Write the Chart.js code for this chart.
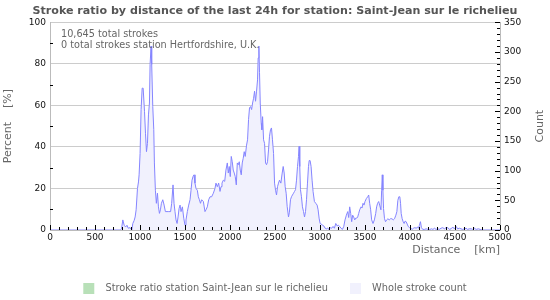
<!DOCTYPE html>
<html>
<head>
<meta charset="utf-8">
<script src="https://cdn.jsdelivr.net/npm/chart.js@4.4.1/dist/chart.umd.min.js"></script>
<style>
  html, body { margin: 0; padding: 0; background: #fff; }
  #c { display: block; }
</style>
</head>
<body>
<canvas id="c" width="550" height="300"></canvas>
<script>
// ---- Data ----
const chartTitle = 'Stroke ratio by distance of the last 24h for station: Saint-Jean sur le richelieu';
const ratioLabel = 'Stroke ratio station Saint-Jean sur le richelieu';
const countLabel = 'Whole stroke count';
const infoLines = ['10,645 total strokes', '0 total strokes station Hertfordshire, U.K.'];

// Distance (km) of each traced point and the whole stroke count there (right axis)
const distanceKm = [
  0, 780, 795, 809, 824, 840, 855, 870, 890, 909, 920, 935, 946, 957, 972, 983, 990,
  1001, 1012, 1024, 1035, 1050, 1061, 1072, 1083, 1094, 1105, 1112, 1123, 1130, 1142, 1153, 1160, 1171, 1182, 1194,
  1205, 1216, 1227, 1238, 1253, 1268, 1282, 1300, 1320, 1340, 1352, 1367, 1378, 1389, 1400, 1412, 1423, 1434, 1445,
  1456, 1471, 1486, 1500, 1511, 1526, 1541, 1556, 1567, 1578, 1589, 1600, 1611, 1622, 1637, 1648, 1660, 1672, 1685,
  1704, 1722, 1733, 1748, 1763, 1778, 1796, 1815, 1833, 1844, 1859, 1874, 1889, 1900, 1911, 1926, 1941, 1955, 1970,
  1981, 1992, 2003, 2014, 2025, 2036, 2047, 2058, 2070, 2081, 2092, 2103, 2114, 2125, 2136, 2147, 2158, 2169, 2184,
  2195, 2206, 2217, 2228, 2240, 2251, 2262, 2273, 2284, 2295, 2306, 2313, 2321, 2328, 2336, 2347, 2354, 2362, 2373,
  2384, 2395, 2406, 2417, 2428, 2439, 2450, 2461, 2472, 2484, 2495, 2506, 2517, 2528, 2539, 2550, 2565, 2580, 2591,
  2602, 2613, 2624, 2635, 2650, 2660, 2672, 2683, 2694, 2706, 2717, 2728, 2739, 2750, 2761, 2768, 2775, 2783, 2794,
  2805, 2817, 2828, 2839, 2850, 2861, 2872, 2880, 2890, 2901, 2912, 2923, 2938, 2953, 2968, 2979, 2990, 3001, 3016,
  3027, 3042, 3057, 3071, 3086, 3101, 3116, 3130, 3145, 3160, 3175, 3190, 3204, 3219, 3234, 3249, 3264, 3278, 3293,
  3308, 3319, 3330, 3341, 3352, 3363, 3374, 3386, 3397, 3408, 3419, 3430, 3441, 3456, 3467, 3478, 3489, 3500, 3515,
  3530, 3541, 3552, 3563, 3574, 3589, 3604, 3619, 3629, 3640, 3652, 3663, 3677, 3685, 3692, 3699, 3706, 3717, 3728,
  3740, 3755, 3769, 3784, 3799, 3814, 3828, 3843, 3854, 3865, 3876, 3887, 3895, 3902, 3913, 3924, 3935, 3946, 3957,
  3969, 3980, 3995, 4010, 4024, 4039, 4054, 4068, 4083, 4094, 4105, 4116, 4127, 4142, 4160, 4180, 4200, 4220, 4240,
  4255, 4272, 4290, 4310, 4325, 4345, 4364, 4382, 4400, 4420, 4438, 4456, 4475, 4493, 4512, 4530, 4550, 4567, 4585,
  4605, 4623, 4640, 4660, 4680, 4697, 4715, 4735, 4760, 4780, 4800, 5000
];
const strokeCount = [
  0, 0, 2, 17, 8, 5, 8, 3, 4, 0, 11, 16, 22, 34, 70, 81, 93,
  129, 203, 239, 239, 200, 163, 132, 146, 194, 214, 279, 310, 279, 208, 169, 113, 67, 45, 62,
  39, 28, 34, 45, 51, 42, 31, 31, 31, 31, 45, 76, 45, 31, 17, 11, 22, 36, 42,
  31, 39, 20, 8, 17, 31, 42, 51, 67, 84, 90, 93, 79, 70, 67, 56, 51, 45, 51,
  48, 31, 34, 39, 51, 56, 56, 62, 70, 79, 73, 79, 65, 73, 79, 84, 82, 101, 113,
  96, 107, 90, 124, 115, 101, 96, 90, 76, 113, 110, 115, 101, 93, 113, 121, 132, 124, 143,
  152, 186, 206, 208, 203, 214, 222, 234, 217, 234, 253, 290, 310, 265, 214, 180, 169, 191, 152,
  146, 113, 110, 115, 135, 158, 169, 172, 152, 129, 79, 67, 59, 73, 79, 84, 79, 96, 107,
  96, 73, 62, 40, 22, 30, 51, 56, 59, 62, 65, 68, 84, 107, 124, 141, 107, 68, 56,
  39, 31, 22, 31, 51, 79, 107, 117, 117, 107, 84, 65, 48, 45, 42, 34, 20, 11, 10,
  8, 7, 3, 2, 3, 1, 4, 3, 6, 3, 11, 7, 8, 6, 3, 1, 6, 17, 25,
  31, 21, 39, 28, 14, 25, 22, 17, 20, 20, 22, 28, 34, 39, 37, 45, 42, 48, 53,
  56, 59, 45, 34, 17, 11, 17, 28, 39, 45, 48, 42, 34, 67, 93, 67, 36, 19, 14,
  17, 19, 17, 19, 19, 17, 19, 25, 31, 50, 56, 56, 45, 28, 19, 14, 11, 15, 14,
  10, 6, 4, 3, 1, 3, 4, 3, 5, 3, 8, 14, 4, 1, 1, 2, 1, 1, 2,
  1, 3, 1, 2, 1, 3, 4, 2, 4, 4, 1, 2, 5, 2, 6, 2, 3, 2, 1,
  2, 3, 1, 2, 2, 1, 3, 1, 2, 1, 0, 0
];
// Stroke ratio (left axis, %) — the station recorded 0 strokes, so nothing to plot
const ratioDistanceKm = [];
const ratioPercent = [];

// Axis ranges / ticks
const xMaxKm = 5000, xStepKm = 500, xMinorKm = 100;
const pctMax = 100, pctStep = 20, pctMinor = 10;
const cntMax = 350, cntStep = 50, cntMinor = 10;

// ---- Chart ----
Chart.defaults.font.family = "'DejaVu Sans', 'Verdana', sans-serif";

const countPoints = distanceKm.map((d, i) => ({ x: d, y: strokeCount[i] }));
const ratioPoints = ratioDistanceKm.map((d, i) => ({ x: d, y: ratioPercent[i] }));

const extras = {
  id: 'extras',
  afterDatasetsDraw(chart) {
    const { ctx, chartArea: a, scales } = chart;
    ctx.save();
    ctx.strokeStyle = '#000';
    ctx.lineWidth = 1;
    ctx.beginPath();
    // x ticks, drawn inward from the bottom
    for (let v = 0; v <= xMaxKm; v += xMinorKm) {
      const px = Math.round(scales.x.getPixelForValue(v)) + 0.5;
      const len = (v % xStepKm === 0) ? 5 : 3;
      ctx.moveTo(px, a.bottom);
      ctx.lineTo(px, a.bottom - len);
    }
    // left minor ticks
    for (let v = pctMinor; v < pctMax; v += pctMinor) {
      if (v % pctStep === 0) continue;
      const py = Math.round(scales.yPct.getPixelForValue(v)) + 0.5;
      ctx.moveTo(a.left, py);
      ctx.lineTo(a.left + 3, py);
    }
    // right ticks, inward
    for (let v = 0; v <= cntMax; v += cntMinor) {
      const py = Math.round(scales.yCnt.getPixelForValue(v)) + 0.5;
      const len = (v % cntStep === 0) ? 5 : 3;
      ctx.moveTo(a.right, py);
      ctx.lineTo(a.right - len, py);
    }
    ctx.stroke();

    // info text top-left
    ctx.fillStyle = '#666';
    ctx.font = "9.7px 'DejaVu Sans', sans-serif";
    ctx.textBaseline = 'middle';
    ctx.textAlign = 'left';
    infoLines.forEach((t, i) => ctx.fillText(t, a.left + 11, a.top + 12.5 + i * 10.5));

    // right axis title (reads bottom to top)
    ctx.font = "11px 'DejaVu Sans', sans-serif";
    ctx.translate(540, (a.top + a.bottom) / 2);
    ctx.rotate(-Math.PI / 2);
    ctx.textAlign = 'center';
    ctx.fillText('Count', 0, 0);
    ctx.restore();
  }
};

new Chart(document.getElementById('c'), {
  type: 'line',
  data: {
    datasets: [
      {
        label: ratioLabel,
        data: ratioPoints,
        yAxisID: 'yPct',
        borderColor: '#b8e0b8',
        backgroundColor: '#b8e0b8',
        borderWidth: 1,
        pointRadius: 0
      },
      {
        label: countLabel,
        data: countPoints,
        yAxisID: 'yCnt',
        borderColor: '#8585ff',
        backgroundColor: '#f1f1fd',
        borderWidth: 1,
        pointRadius: 0,
        tension: 0,
        fill: 'origin'
      }
    ]
  },
  options: {
    responsive: false,
    animation: false,
    events: [],
    layout: { padding: { left: 0, right: 0, top: 0, bottom: -4 } },
    plugins: {
      title: {
        display: true,
        text: chartTitle,
        color: '#555',
        font: { size: 11.1, weight: 'bold' },
        padding: { top: 4.5, bottom: 4.5 }
      },
      legend: {
        position: 'bottom',
        labels: {
          color: '#666',
          font: { size: 9.8 },
          boxWidth: 11,
          boxHeight: 11,
          padding: 22,
          generateLabels(chart) {
            return chart.data.datasets.map((ds, i) => ({
              text: '  ' + ds.label,
              fillStyle: ds.backgroundColor,
              strokeStyle: ds.backgroundColor,
              lineWidth: 0,
              hidden: false,
              datasetIndex: i,
              fontColor: '#666'
            }));
          }
        }
      },
      tooltip: { enabled: false }
    },
    scales: {
      x: {
        type: 'linear',
        min: 0,
        max: xMaxKm,
        afterFit(s) { s.height = 31; },
        ticks: { stepSize: xStepKm, autoSkip: false, maxRotation: 0, color: '#111', font: { size: 9 }, padding: 2,
                 callback: (v) => String(v) },
        grid: { display: false, drawTicks: false },
        border: { display: true, color: '#bbb' },
        title: { display: true, text: 'Distance    [km]', align: 'end', color: '#666', font: { size: 11 }, padding: { top: 0, bottom: 4 } }
      },
      yPct: {
        position: 'left',
        min: 0,
        max: pctMax,
        afterFit(s) { s.width = 50; },
        ticks: { stepSize: pctStep, color: '#111', font: { size: 9 }, padding: 4 },
        grid: { color: '#ccc', drawTicks: false },
        border: { display: true, color: '#bbb' },
        title: { display: true, text: 'Percent    [%]', color: '#666', font: { size: 11 }, padding: { top: 2, bottom: 2 } }
      },
      yCnt: {
        position: 'right',
        min: 0,
        max: cntMax,
        afterFit(s) { s.width = 50; },
        ticks: { stepSize: cntStep, color: '#111', font: { size: 9 }, padding: 4 },
        grid: { drawOnChartArea: false, drawTicks: false },
        border: { display: true, color: '#bbb' }
      }
    }
  },
  plugins: [extras]
});
</script>
</body>
</html>
